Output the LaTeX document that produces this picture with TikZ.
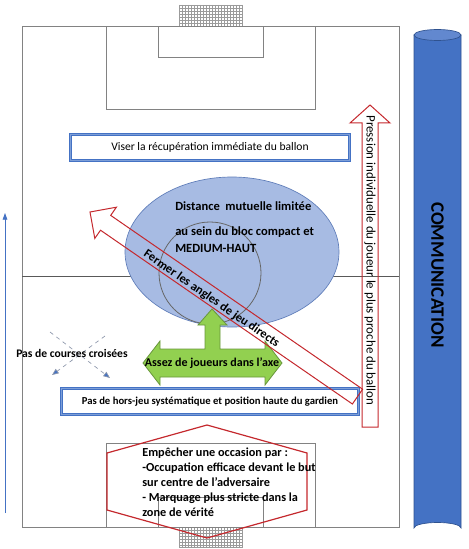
\documentclass[tikz,border=0pt]{standalone}
\usepackage{fontspec}
\setmainfont{Carlito}
\usetikzlibrary{arrows.meta,positioning,calc}
\definecolor{boxblue}{RGB}{68,114,196}
\definecolor{boxlight}{RGB}{125,158,215}
\definecolor{ovalblue}{RGB}{167,187,227}
\definecolor{ovaledge}{RGB}{95,125,185}
\definecolor{arrowred}{RGB}{196,40,45}
\definecolor{axegreen}{RGB}{146,208,80}
\definecolor{axeedge}{RGB}{104,150,60}
\definecolor{lineg}{RGB}{130,130,130}
\definecolor{cyledge}{RGB}{47,82,143}
\definecolor{cyltop}{RGB}{98,136,207}
\definecolor{dashgrey}{RGB}{140,150,170}

\tikzset{
  fieldline/.style={draw=lineg,line width=0.6pt},
  netline/.style={draw=lineg!80,line width=0.25pt},
  bluebox/.style={draw=boxblue,double=boxlight,double distance=0.6pt,line width=0.85pt,
    fill=white,minimum height=19.5pt,inner sep=0pt},
  redarrow/.style={draw=arrowred,line width=0.75pt},
  boldtxt/.style={font=\bfseries,inner sep=0pt},
  plaintxt/.style={inner sep=0pt},
}

\begin{document}
\begin{tikzpicture}[x=0.75pt,y=-0.75pt]
\useasboundingbox (0,0) rectangle (468,549);

% nets
\foreach \i in {179,182,...,242} {
  \draw[netline] (\i,5) -- (\i,26);
  \draw[netline] (\i,527) -- (\i,547);
}
\foreach \j in {5,8,...,26} \draw[netline] (179,\j) -- (242,\j);
\foreach \j in {527,530,...,547} \draw[netline] (179,\j) -- (242,\j);
\draw[netline] (179,5) rectangle (242,26);
\draw[netline] (179,527) rectangle (242,547);

% pitch
\draw[fieldline] (22,26) rectangle (399,527);
\draw[fieldline] (106,26) rectangle (315,109);
\draw[fieldline] (158,26) rectangle (263,57);
\draw[fieldline] (106,443) rectangle (315,527);
\draw[fieldline] (158,497) rectangle (263,527);
\draw[draw=black!65,line width=0.7pt] (22,276) -- (399,276);

% left arrow
\coordinate (lbot) at (5,513);
\coordinate (ltop) at (5,213);
\draw[boxblue,line width=0.6pt,-{Triangle[length=5pt,width=3.5pt]}] (lbot) -- (ltop);

% communication
\fill[boxblue,draw=cyledge,line width=0.5pt] (414,35) -- (414,528) arc[start angle=180,end angle=360,x radius=23.5,y radius=5.5] -- (461,35) -- cycle;
\filldraw[fill=cyltop,draw=cyledge,line width=0.5pt] (437.5,35) ellipse [x radius=23.5,y radius=5.5];
\node[boldtxt,font=\fontsize{14.2}{16}\selectfont\bfseries,rotate=-90] (comm) at (437.5,275) {COMMUNICATION};

% block
\filldraw[fill=ovalblue,draw=ovaledge,line width=0.5pt] (232,252) ellipse [x radius=107,y radius=75];
\draw[draw=black!60,line width=0.6pt] (210,273) circle [radius=51];
\node[boldtxt,font=\fontsize{9.4}{11}\selectfont\bfseries,anchor=west] (dist) at (175,206) {Distance\ \ mutuelle limitée};
\node[boldtxt,font=\fontsize{9.4}{12.6}\selectfont\bfseries,align=left,below=12pt of dist.south west,anchor=north west] (bloc) {au sein du bloc compact et\\MEDIUM-HAUT};

% boxes
\node[bluebox,minimum width=209.25pt,font=\fontsize{8.7}{10}\selectfont] (viser) at (210,147.5) {Viser la récupération immédiate du ballon};
\node[bluebox,minimum width=222.75pt,font=\fontsize{8}{10}\selectfont\bfseries] (horsjeu) at (210,401.5) {Pas de hors-jeu systématique et position haute du gardien};

% axe
\filldraw[fill=axegreen,draw=axeedge,line width=0.6pt]
  (212,309) -- (227,325) -- (220,325) -- (220,349) -- (265,349) -- (265,341) -- (282,363)
  -- (265,385) -- (265,377) -- (160,377) -- (160,385) -- (143,363) -- (160,341)
  -- (160,349) -- (205,349) -- (205,325) -- (198,325) -- cycle;
\node[boldtxt,font=\fontsize{9}{10}\selectfont\bfseries] (axe) at (212,363) {Assez de joueurs dans l’axe};

% courses croisees
\coordinate (c1a) at (50,332);
\coordinate (c1b) at (110,378);
\coordinate (c2a) at (105,336);
\coordinate (c2b) at (52,375);
\draw[dashgrey,dashed,line width=0.5pt,-{Triangle[length=5pt,width=4pt,fill=boxblue]}] (c1a) -- (c1b);
\draw[dashgrey,dashed,line width=0.5pt,-{Triangle[length=5pt,width=4pt,fill=boxblue]}] (c2a) -- (c2b);
\node[boldtxt,font=\fontsize{8.7}{10}\selectfont\bfseries] (croise) at (72,353) {Pas de courses croisées};

% fermer les angles
\draw[redarrow] (90,212) -- (116.4,207.2) -- (110.7,215.4) -- (362.6,389.2) -- (352.4,404.0)
  -- (100.5,230.2) -- (94.8,238.4) -- cycle;
\node[boldtxt,font=\fontsize{9.3}{11}\selectfont\bfseries,rotate=-34.6] (fermer) at (211.5,299) {Fermer les angles de jeu directs};

% pression
\draw[redarrow] (370,105) -- (390,123) -- (378,123) -- (378,427) -- (362,427) -- (362,123)
  -- (350,123) -- cycle;
\node[plaintxt,font=\fontsize{9.7}{11}\selectfont,rotate=-90] (pression) at (370,260.5) {Pression individuelle du joueur le plus proche du ballon};

% occasion
\draw[redarrow,line width=0.9pt] (207,425) -- (307,453) -- (307,510) -- (207,538) -- (107,510) -- (107,453) -- cycle;
\node[boldtxt,font=\fontsize{9.2}{11.2}\selectfont\bfseries,align=left,anchor=west] (occasion) at (142,482)
  {Empêcher une occasion par :\\-Occupation efficace devant le but\\sur centre de l’adversaire\\- Marquage plus stricte dans la\\zone de vérité};
\end{tikzpicture}
\end{document}
